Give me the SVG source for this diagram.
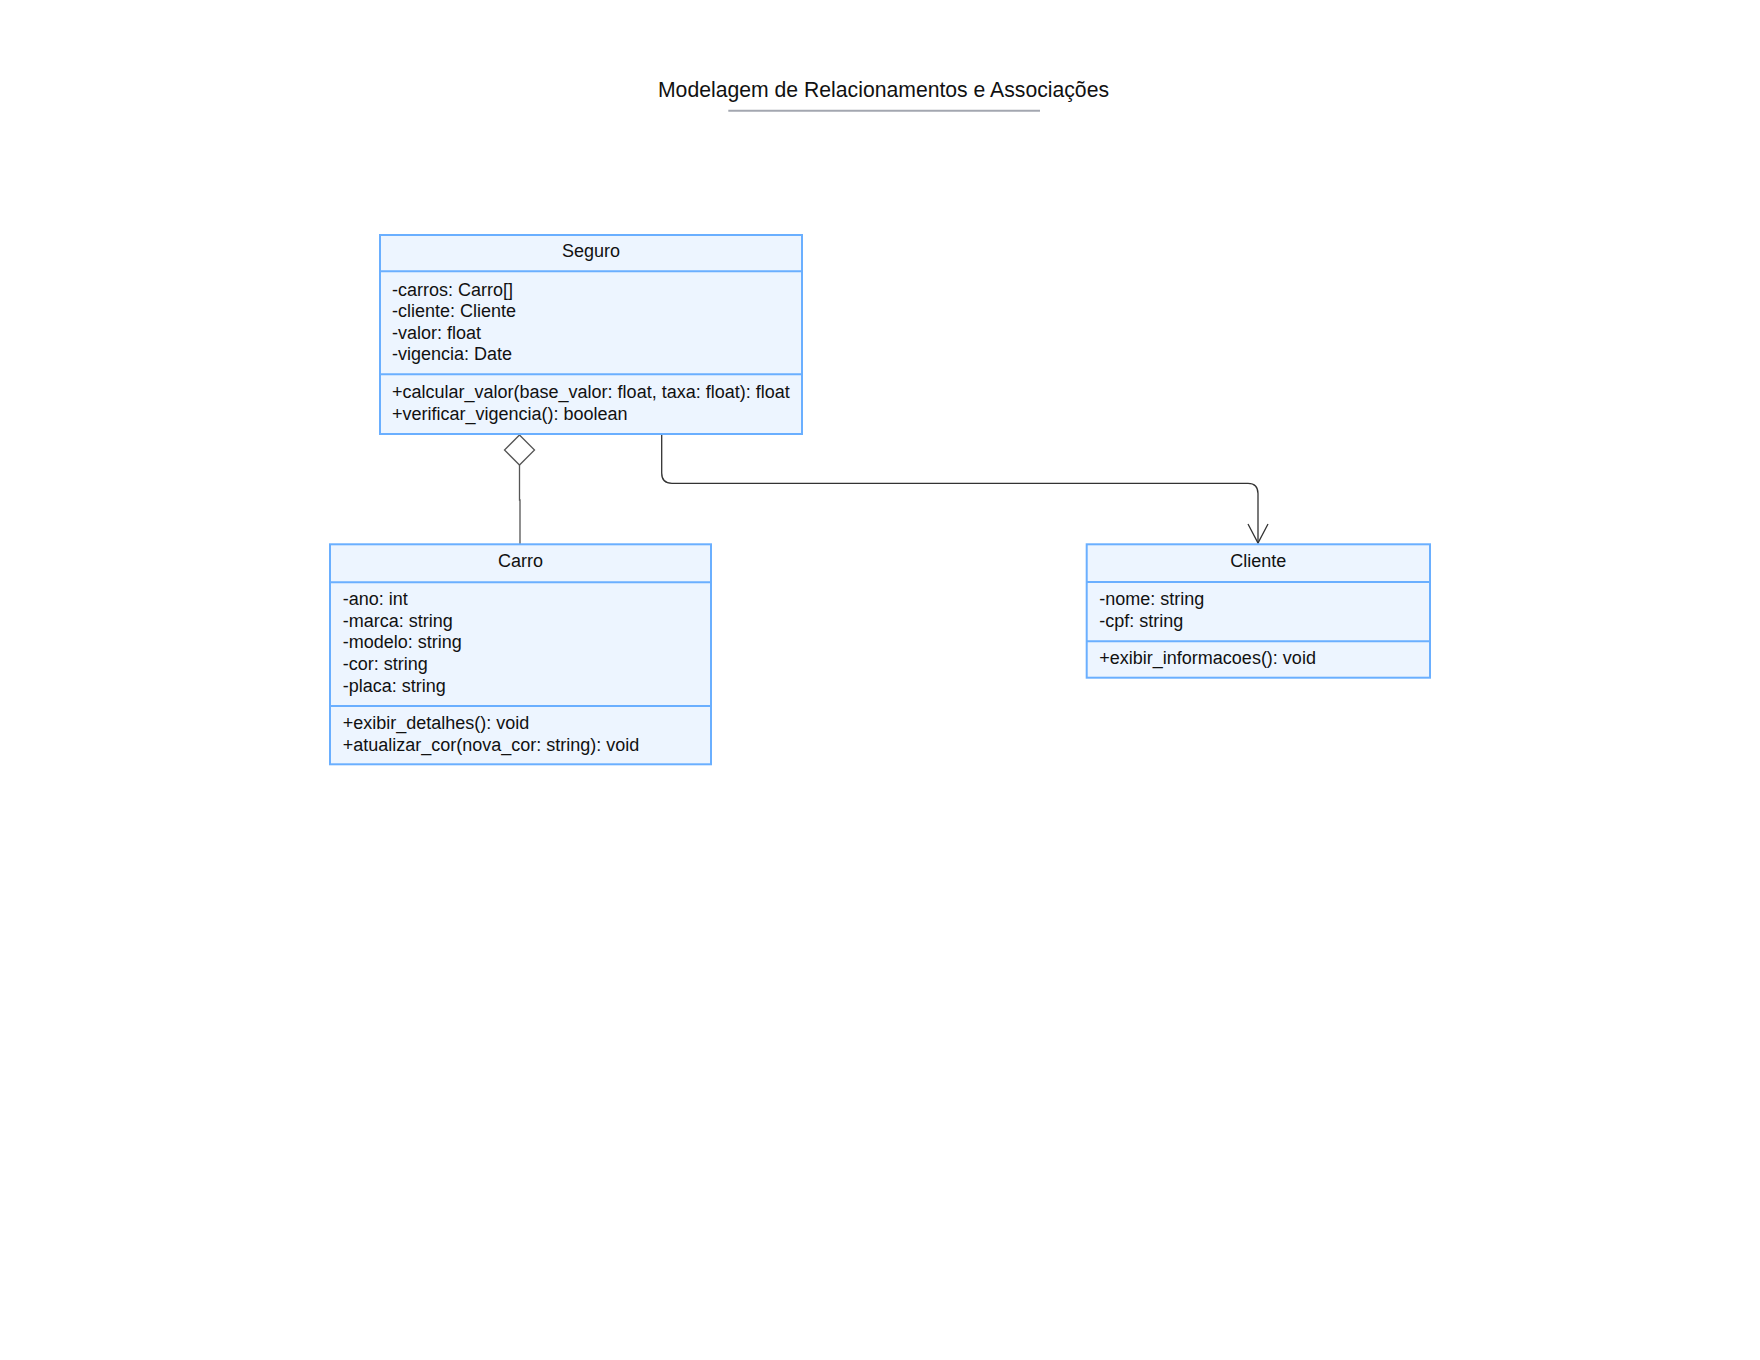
<svg xmlns="http://www.w3.org/2000/svg" width="1760" height="1360" viewBox="0 0 1760 1360">
<style>
.box{fill:#edf5ff;stroke:#6aafff;stroke-width:2}
.div{stroke:#6aafff;stroke-width:2}
text{font-family:"Liberation Sans",Arial,sans-serif;font-size:18px;fill:#111}
.hdr{text-anchor:middle}
.title{font-size:21.2px;text-anchor:middle}
.conn{fill:none;stroke:#333;stroke-width:1.3}
.agg{fill:none;stroke:#555;stroke-width:1.3}
</style>
<defs>
<marker id="open" markerWidth="24" markerHeight="24" refX="20" refY="10" orient="auto" markerUnits="userSpaceOnUse" viewBox="0 0 24 20">
<path d="M1,0 L20,10 L1,20" fill="none" stroke="#333" stroke-width="1.3"/>
</marker>
</defs>
<rect width="1760" height="1360" fill="#fff"/>
<g id="title">
<text class="title" x="883.5" y="97">Modelagem de Relacionamentos e Associações</text>
<line x1="728.3" y1="110.7" x2="1040" y2="110.7" stroke="#a3a7b0" stroke-width="2"/>
</g>
<g id="connectors">
<path class="agg" d="M519.5,465 L519.5,500 L520,500 L520,544"/>
<path class="agg" d="M519.5,435 L534.5,450 L519.5,465 L504.5,450 Z" fill="#fff" stroke="#333"/>
<path class="conn" d="M661.7,434 L661.7,473 Q661.7,483.3 672,483.3 L1248,483.3 Q1258,483.3 1258,493.6 L1258,543" marker-end="url(#open)"/>
</g>
<g id="Seguro">
<rect class="box" x="380" y="235" width="422" height="199"/>
<line class="div" x1="380" y1="271.3" x2="802" y2="271.3"/>
<line class="div" x1="380" y1="374.3" x2="802" y2="374.3"/>
<text class="hdr" x="591" y="257.3">Seguro</text>
<text x="392" y="296">-carros: Carro[]</text>
<text x="392" y="317.4">-cliente: Cliente</text>
<text x="392" y="338.7">-valor: float</text>
<text x="392" y="360">-vigencia: Date</text>
<text x="392" y="398.3">+calcular_valor(base_valor: float, taxa: float): float</text>
<text x="392" y="419.5">+verificar_vigencia(): boolean</text>
</g>
<g id="Carro">
<rect class="box" x="330" y="544.3" width="381" height="220"/>
<line class="div" x1="330" y1="582.3" x2="711" y2="582.3"/>
<line class="div" x1="330" y1="706" x2="711" y2="706"/>
<text class="hdr" x="520.5" y="566.7">Carro</text>
<text x="342.7" y="605">-ano: int</text>
<text x="342.7" y="626.7">-marca: string</text>
<text x="342.7" y="648.3">-modelo: string</text>
<text x="342.7" y="670">-cor: string</text>
<text x="342.7" y="691.7">-placa: string</text>
<text x="342.7" y="729">+exibir_detalhes(): void</text>
<text x="342.7" y="750.5">+atualizar_cor(nova_cor: string): void</text>
</g>
<g id="Cliente">
<rect class="box" x="1086.7" y="544.3" width="343.3" height="133.4"/>
<line class="div" x1="1086.7" y1="582" x2="1430" y2="582"/>
<line class="div" x1="1086.7" y1="641.3" x2="1430" y2="641.3"/>
<text class="hdr" x="1258.3" y="566.7">Cliente</text>
<text x="1099.3" y="605">-nome: string</text>
<text x="1099.3" y="626.7">-cpf: string</text>
<text x="1099.3" y="664">+exibir_informacoes(): void</text>
</g>
</svg>
